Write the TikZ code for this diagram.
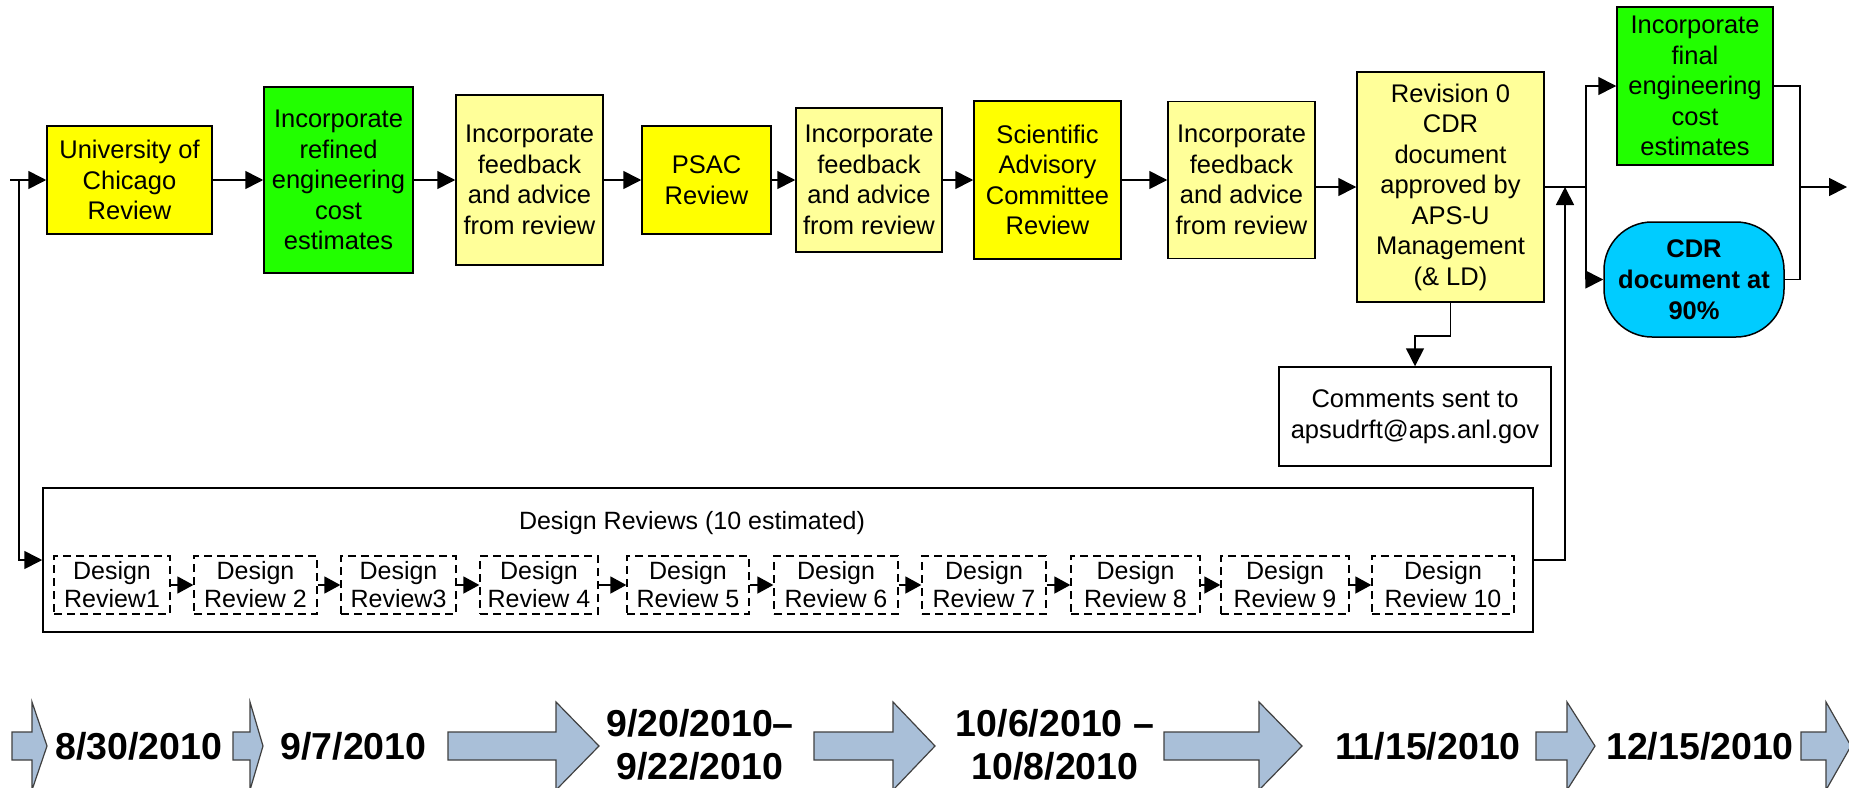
\documentclass[tikz,border=0pt]{standalone}
\usepackage{fontspec}
\setmainfont{Liberation Sans}
\usetikzlibrary{arrows.meta}
\definecolor{ybright}{HTML}{FFFF00}
\definecolor{gbright}{HTML}{22FF00}
\definecolor{ylight}{HTML}{FFFF99}
\definecolor{cdrblue}{HTML}{00CCFF}
\definecolor{datefill}{HTML}{A9BFD8}
\definecolor{dateline}{HTML}{404040}
\tikzset{
  base/.style={draw=black, line width=1.5pt, inner sep=0pt, align=center, font=\fontsize{25.5}{30.5}\selectfont},
  ybox/.style={base, fill=ybright},
  gbox/.style={base, fill=gbright},
  lbox/.style={base, fill=ylight},
  wbox/.style={base, fill=white},
  cdrbox/.style={base, fill=cdrblue, rounded corners=48pt, font=\fontsize{25.5}{31}\selectfont\bfseries},
  drbox/.style={draw=black, line width=1.3pt, dash pattern=on 8pt off 5pt, inner sep=0pt, align=center, minimum height=58pt, font=\fontsize{25}{28}\selectfont},
  conn/.style={line width=1.6pt, draw=black},
  arr/.style={conn, -{Triangle[length=18pt,width=18pt]}},
  sarr/.style={conn, -{Triangle[length=16pt,width=17pt]}},
  datearrow/.style={fill=datefill, draw=dateline, line width=1.2pt},
  datetext/.style={font=\fontsize{37.5}{43}\selectfont\bfseries, align=center, inner sep=0pt},
}
\newcommand\darrow[3]{\draw[datearrow] (#1,732) -- (#2,732) -- (#2,702) -- (#3,746) -- (#2,790) -- (#2,760) -- (#1,760) -- cycle;}
\begin{document}
\begin{tikzpicture}[x=1pt,y=-1pt]
\useasboundingbox (0,0) rectangle (1849,787);
\fill[white] (0,0) rectangle (1849,787);
\clip (0,0) rectangle (1849,787);

% top row
\node[ybox, minimum width=165pt, minimum height=108pt] (univ) at (129.5,180) {University of\\Chicago\\Review};
\node[gbox, minimum width=149pt, minimum height=186pt] (eng1) at (338.5,180) {Incorporate\\refined\\engineering\\cost\\estimates};
\node[lbox, minimum width=147pt, minimum height=170pt] (fb1) at (529.5,180) {Incorporate\\feedback\\and advice\\from review};
\node[ybox, minimum width=129pt, minimum height=108pt] (psac) at (706.5,180) {PSAC\\Review};
\node[lbox, minimum width=146pt, minimum height=144pt] (fb2) at (869,180) {Incorporate\\feedback\\and advice\\from review};
\node[ybox, minimum width=147pt, minimum height=158pt] (sac) at (1047.5,180) {Scientific\\Advisory\\Committee\\Review};
\node[lbox, minimum width=147pt, minimum height=157pt] (fb3) at (1241.5,180) {Incorporate\\feedback\\and advice\\from review};
\node[lbox, minimum width=187pt, minimum height=230pt] (rev) at (1450.5,187) {Revision 0\\CDR\\document\\approved by\\APS-U\\Management\\(\& LD)};
\node[gbox, minimum width=156pt, minimum height=158pt] (eng2) at (1695,86) {Incorporate\\final\\engineering\\cost\\estimates};
\node[cdrbox, minimum width=180pt, minimum height=115pt] (cdr) at (1694,279.5) {CDR\\document at\\90\%};
\node[wbox, minimum width=272pt, minimum height=99pt] (comm) at (1415,416.5) {Comments sent to\\apsudrft@aps.anl.gov};

% design reviews
\node[wbox, minimum width=1490pt, minimum height=144pt] (dr) at (788,560) {};
\node[font=\fontsize{25}{30}\selectfont, inner sep=0pt] (drtitle) at (692,523) {Design Reviews (10 estimated)};
\node[drbox, minimum width=116pt] (r1) at (112,585) {Design\\Review1};
\node[drbox, minimum width=123pt] (r2) at (255.5,585) {Design\\Review 2};
\node[drbox, minimum width=115pt] (r3) at (398.5,585) {Design\\Review3};
\node[drbox, minimum width=118pt] (r4) at (539,585) {Design\\Review 4};
\node[drbox, minimum width=122pt] (r5) at (688,585) {Design\\Review 5};
\node[drbox, minimum width=124pt] (r6) at (836,585) {Design\\Review 6};
\node[drbox, minimum width=124pt] (r7) at (984,585) {Design\\Review 7};
\node[drbox, minimum width=129pt] (r8) at (1135.5,585) {Design\\Review 8};
\node[drbox, minimum width=128pt] (r9) at (1285,585) {Design\\Review 9};
\node[drbox, minimum width=142pt] (r10) at (1443,585) {Design\\Review 10};
\foreach \a/\b in {r1/r2,r2/r3,r3/r4,r4/r5,r5/r6,r6/r7,r7/r8,r8/r9,r9/r10}
  \draw[sarr] (\a) -- (\b);

% connectors
\coordinate (start) at (10,180);
\coordinate (j0) at (19,180);
\draw[conn] (start) -- (j0);
\draw[arr] (j0) -- (univ);
\draw[arr] (j0) |- (dr.west);
\draw[arr] (univ) -- (eng1);
\draw[arr] (eng1) -- (fb1);
\draw[arr] (fb1) -- (psac);
\draw[arr] (psac) -- (fb2);
\draw[arr] (fb2) -- (sac);
\draw[arr] (sac) -- (fb3);
\draw[arr] (rev.west -| fb3.east) -- (rev.west);
\coordinate (j1) at (1586,187);
\draw[conn] (rev.east) -- (j1);
\draw[arr] (j1) |- (eng2.west);
\draw[arr] (j1) |- (cdr.west);
\coordinate (j2) at (1800,187);
\draw[conn] (eng2.east) -| (j2);
\draw[conn] (cdr.east) -| (j2);
\coordinate (out) at (1847,187);
\draw[arr] (j2) -- (out);
\coordinate (up) at (1565,187);
\draw[arr] (dr.east) -| (up);
\draw[arr] (rev.south) -- ++(0,33) -| (comm.north);

% timeline
\darrow{12}{32}{47}
\darrow{233}{250}{263}
\darrow{448}{556}{599}
\darrow{814}{893}{935}
\darrow{1164}{1259}{1302}
\darrow{1536}{1567}{1595}
\darrow{1801}{1826}{1851}
\node[datetext] (d1) at (139,746) {8/30/2010};
\node[datetext] (d2) at (353.5,746) {9/7/2010};
\node[datetext] (d3) at (700,745) {9/20/2010--\\9/22/2010};
\node[datetext] (d4) at (1055,745) {10/6/2010 --\\10/8/2010};
\node[datetext] (d5) at (1428,746) {11/15/2010};
\node[datetext] (d6) at (1700,746) {12/15/2010};
\end{tikzpicture}
\end{document}
